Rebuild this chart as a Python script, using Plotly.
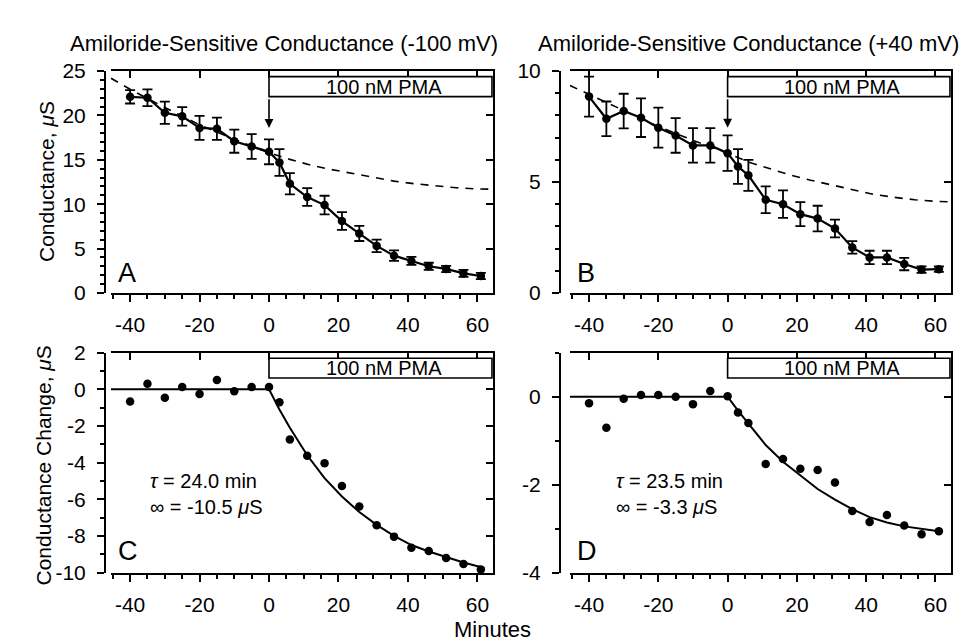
import plotly.graph_objects as go

# ---------------- data ----------------
minutes = [-40, -35, -30, -25, -20, -15, -10, -5, 0, 3, 6, 11, 16, 21, 26, 31, 36, 41, 46, 51, 56, 61]

# Panel A: amiloride-sensitive conductance at -100 mV (uS), mean and error
g_neg100 = [22.1, 22.0, 20.3, 19.9, 18.6, 18.5, 17.1, 16.5, 15.9, 14.7, 12.3, 10.8,
            9.9, 8.1, 6.7, 5.3, 4.2, 3.6, 3.0, 2.7, 2.2, 1.9]
g_neg100_err = [0.75, 0.95, 1.25, 1.05, 1.35, 1.25, 1.3, 1.4, 1.4, 1.5, 1.2, 1.0,
                1.05, 1.0, 0.85, 0.7, 0.6, 0.45, 0.4, 0.35, 0.4, 0.35]
# Panel B: at +40 mV
g_pos40 = [8.85, 7.85, 8.2, 7.9, 7.45, 7.1, 6.65, 6.65, 6.3, 5.7, 5.3, 4.2,
           4.0, 3.55, 3.35, 2.9, 2.05, 1.6, 1.6, 1.3, 1.05, 1.07]
g_pos40_err = [0.9, 0.78, 0.78, 0.87, 0.9, 0.78, 0.78, 0.78, 0.8, 0.78, 0.7, 0.6,
               0.62, 0.54, 0.58, 0.4, 0.28, 0.3, 0.3, 0.28, 0.15, 0.12]

# dashed extrapolated run-down trends
trend_t = [-45.5, -40, -30, -20, -10, 0, 6, 12, 18, 24, 30, 36, 42, 48, 54, 60, 64.5]
trend_neg100 = [24.2, 22.95, 20.9, 18.95, 17.3, 15.8, 15.05, 14.4, 13.9, 13.45, 13.0,
                12.6, 12.3, 12.05, 11.85, 11.72, 11.68]
trend_pos40 = [9.35, 8.95, 8.2, 7.5, 6.88, 6.3, 5.9, 5.6, 5.32, 5.08, 4.86,
               4.64, 4.45, 4.31, 4.2, 4.13, 4.1]

# Panels C, D: conductance change (uS)
dg_neg100 = [-0.67, 0.3, -0.46, 0.12, -0.26, 0.51, -0.11, 0.12, 0.12, -0.7, -2.74, -3.62,
             -4.04, -5.28, -6.4, -7.42, -8.04, -8.65, -8.83, -9.21, -9.53, -9.84]
dg_pos40 = [-0.15, -0.71, -0.05, 0.04, 0.04, 0.0, -0.17, 0.13, 0.01, -0.36, -0.6, -1.53,
            -1.42, -1.64, -1.67, -1.95, -2.6, -2.85, -2.69, -2.93, -3.13, -3.06]

# fitted curves
fit_t_neg100 = [-45.5, 0, 3, 6, 11, 16, 21, 26, 31, 36, 41, 46, 51, 56, 62]
fit_neg100 = [0, 0, -1.1, -2.1, -3.6, -4.85, -5.85, -6.7, -7.4, -8.0, -8.5, -8.85, -9.15, -9.45, -9.75]
fit_t_pos40 = [-45.5, 0, 3, 6, 11, 16, 21, 26, 31, 36, 41, 46, 51, 56, 61]
fit_pos40 = [0, 0, -0.32, -0.62, -1.1, -1.48, -1.8, -2.1, -2.34, -2.56, -2.74, -2.86, -2.95, -3.01, -3.06]

# tick labels
x_tickvals = [-40, -20, 0, 20, 40, 60]
x_ticktext = ["-40", "-20", "0", "20", "40", "60"]
yA_tickvals = [0, 5, 10, 15, 20, 25]
yA_ticktext = ["0", "5", "10", "15", "20", "25"]
yB_tickvals = [0, 5, 10]
yB_ticktext = ["0", "5", "10"]
yC_tickvals = [-10, -8, -6, -4, -2, 0, 2]
yC_ticktext = ["-10", "-8", "-6", "-4", "-2", "0", "2"]
yD_tickvals = [-4, -2, 0]
yD_ticktext = ["-4", "-2", "0"]

titles = ["Amiloride-Sensitive Conductance (-100 mV)", "Amiloride-Sensitive Conductance (+40 mV)"]
y_titles = ["Conductance, <i>μ</i>S", "Conductance Change, <i>μ</i>S"]
x_title = "Minutes"
panel_letters = ["A", "B", "C", "D"]
pma_label = "100 nM PMA"
fit_text_c = "<i>τ</i> = 24.0 min<br>∞ = -10.5 <i>μ</i>S"
fit_text_d = "<i>τ</i> = 23.5 min<br>∞ = -3.3 <i>μ</i>S"

# ---------------- figure ----------------
FONT = "Liberation Sans, Arial, Helvetica, sans-serif"
W, H = 969, 644
X_RANGE = [-45.5, 64.5]
BOX_END = 64.2

left_dom = [103 / W, 485 / W]
right_dom = [562 / W, 943 / W]
top_dom = [1 - 283 / H, 1 - 53 / H]
bot_dom = [1 - 573 / H, 1 - 345 / H]
left_ypos = 97 / W
right_ypos = 552 / W

panels = [
    dict(xd=left_dom, yd=top_dom, ypos=left_ypos, yr=[0, 25], tv=yA_tickvals, tt=yA_ticktext),
    dict(xd=right_dom, yd=top_dom, ypos=right_ypos, yr=[0, 10], tv=yB_tickvals, tt=yB_ticktext),
    dict(xd=left_dom, yd=bot_dom, ypos=left_ypos, yr=[-10, 2], tv=yC_tickvals, tt=yC_ticktext),
    dict(xd=right_dom, yd=bot_dom, ypos=right_ypos, yr=[-4, 1], tv=yD_tickvals, tt=yD_ticktext),
]

fig = go.Figure()


def ax(n, kind):
    return kind if n == 1 else f"{kind}{n}"


# data traces
top_series = [(g_neg100, g_neg100_err, trend_neg100), (g_pos40, g_pos40_err, trend_pos40)]
for i, (vals, errs, trend) in enumerate(top_series, start=1):
    xa, ya = ax(i, "x"), ax(i, "y")
    fig.add_trace(go.Scatter(x=trend_t, y=trend, mode="lines", xaxis=xa, yaxis=ya,
                             line=dict(color="black", width=1.6, dash="8px,7px"),
                             showlegend=False, hoverinfo="skip"))
    fig.add_trace(go.Scatter(x=minutes, y=vals, mode="lines+markers", xaxis=xa, yaxis=ya,
                             line=dict(color="black", width=2.2),
                             marker=dict(color="black", size=8.5),
                             error_y=dict(type="data", array=errs, visible=True,
                                          color="black", thickness=1.8, width=5),
                             cliponaxis=False, showlegend=False))

bot_series = [(dg_neg100, fit_t_neg100, fit_neg100), (dg_pos40, fit_t_pos40, fit_pos40)]
for j, (vals, ft, fv) in enumerate(bot_series, start=3):
    xa, ya = ax(j, "x"), ax(j, "y")
    fig.add_trace(go.Scatter(x=ft, y=fv, mode="lines", xaxis=xa, yaxis=ya,
                             line=dict(color="black", width=2),
                             showlegend=False, hoverinfo="skip"))
    fig.add_trace(go.Scatter(x=minutes, y=vals, mode="markers", xaxis=xa, yaxis=ya,
                             marker=dict(color="black", size=8.5),
                             cliponaxis=False, showlegend=False))

tickfont = dict(family=FONT, size=21, color="black")
layout = {}
for i, p in enumerate(panels, start=1):
    xa, ya = ax(i, "x"), ax(i, "y")
    layout["xaxis" if i == 1 else f"xaxis{i}"] = dict(
        domain=p["xd"], range=X_RANGE, anchor=ya, showline=True, linewidth=2, linecolor="black",
        ticks="outside", ticklen=7, tickwidth=1.8, tickcolor="black",
        tickmode="array", tickvals=x_tickvals, ticktext=x_ticktext,
        minor=dict(tickmode="linear", tick0=0, dtick=5, ticks="outside", ticklen=4,
                   tickwidth=1.5, tickcolor="black"),
        showgrid=False, zeroline=False, tickfont=tickfont, ticklabelstandoff=5, fixedrange=True)
    layout["yaxis" if i == 1 else f"yaxis{i}"] = dict(
        domain=p["yd"], range=p["yr"], anchor="free", position=p["ypos"], showline=True,
        linewidth=2, linecolor="black", ticks="outside", ticklen=7, tickwidth=1.8,
        tickcolor="black", tickmode="array", tickvals=p["tv"], ticktext=p["tt"],
        minor=dict(tickmode="linear", tick0=0, dtick=1, ticks="outside", ticklen=4,
                   tickwidth=1.5, tickcolor="black"),
        showgrid=False, zeroline=False, tickfont=tickfont, ticklabelstandoff=7, fixedrange=True)
    # frame: top and right borders with inward ticks
    k = i + 4
    layout[f"xaxis{k}"] = dict(
        overlaying=xa, side="top", anchor=f"y{k}", range=X_RANGE, showline=True, linewidth=2,
        linecolor="black", ticks="inside", ticklen=7, tickwidth=1.8, tickcolor="black",
        tickmode="array", tickvals=x_tickvals, showticklabels=False, showgrid=False,
        zeroline=False, fixedrange=True)
    layout[f"yaxis{k}"] = dict(
        overlaying=ya, side="right", anchor=f"x{k}", range=p["yr"], showline=True, linewidth=2,
        linecolor="black", ticks="inside", ticklen=7, tickwidth=1.8, tickcolor="black",
        tickmode="array", tickvals=p["tv"], showticklabels=False, showgrid=False,
        zeroline=False, fixedrange=True)
    fig.add_trace(go.Scatter(x=[None], y=[None], xaxis=f"x{k}", yaxis=f"y{k}",
                             showlegend=False, hoverinfo="skip"))

shapes = []
annotations = []
for i, p in enumerate(panels, start=1):
    xa, ya = ax(i, "x"), ax(i, "y")
    shapes.append(dict(type="rect", xref=xa, yref=f"{ya} domain", x0=0, x1=BOX_END,
                       y0=0.885, y1=0.975, line=dict(color="black", width=1.6),
                       fillcolor="white", layer="above"))
    annotations.append(dict(text=pma_label, xref=xa, yref=f"{ya} domain", x=33, y=0.93,
                            xanchor="center", yanchor="middle",
                            showarrow=False, font=dict(family=FONT, size=20, color="black")))
    annotations.append(dict(text=panel_letters[i - 1], xref=f"{xa} domain",
                            yref=f"{ya} domain", x=0.012, y=0.09 if i <= 2 else 0.1,
                            xanchor="left", yanchor="middle", showarrow=False,
                            font=dict(family=FONT, size=27, color="black")))

# arrows at PMA addition
for i, (tip, tail) in enumerate([(18.6, 22.0), (7.45, 8.8)], start=1):
    xa, ya = ax(i, "x"), ax(i, "y")
    annotations.append(dict(x=0, y=tip, ax=0, ay=tail, xref=xa, yref=ya, axref=xa, ayref=ya,
                            showarrow=True, arrowhead=2, arrowsize=1.1, arrowwidth=1.6,
                            arrowcolor="black", text=""))

# fit parameters
for i, txt, xpos in [(3, fit_text_c, 0.097), (4, fit_text_d, 0.115)]:
    xa, ya = ax(i, "x"), ax(i, "y")
    annotations.append(dict(text=txt, xref=f"{xa} domain", yref=f"{ya} domain",
                            x=xpos, y=0.355, xanchor="left", yanchor="middle", align="left",
                            showarrow=False, font=dict(family=FONT, size=20, color="black")))

# titles and axis labels
big = dict(family=FONT, size=22, color="black")
annotations.append(dict(text=titles[0], xref="paper", yref="paper", x=276 / W, y=1 - 24 / H,
                        xanchor="center", yanchor="middle", showarrow=False, font=big))
annotations.append(dict(text=titles[1], xref="paper", yref="paper", x=740 / W, y=1 - 24 / H,
                        xanchor="center", yanchor="middle", showarrow=False, font=big))
annotations.append(dict(text=y_titles[0], xref="paper", yref="paper", x=38 / W, y=1 - 168 / H,
                        xanchor="center", yanchor="middle", textangle=-90, showarrow=False,
                        font=dict(family=FONT, size=21, color="black")))
annotations.append(dict(text=y_titles[1], xref="paper", yref="paper", x=35 / W, y=1 - 462 / H,
                        xanchor="center", yanchor="middle", textangle=-90, showarrow=False,
                        font=dict(family=FONT, size=21, color="black")))
annotations.append(dict(text=x_title, xref="paper", yref="paper", x=485 / W, y=1 - 632 / H,
                        xanchor="center", yanchor="middle", showarrow=False, font=big))

fig.update_layout(width=W, height=H, margin=dict(l=0, r=0, t=0, b=0),
                  paper_bgcolor="white", plot_bgcolor="white", showlegend=False,
                  shapes=shapes, annotations=annotations, **layout)

fig.write_html("out.html")
